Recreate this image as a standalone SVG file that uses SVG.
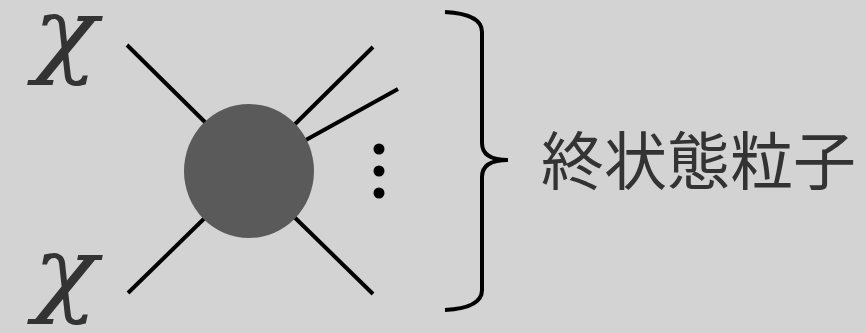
<svg xmlns="http://www.w3.org/2000/svg" width="866" height="333" viewBox="0 0 866 333">
<style>
.ln{stroke:#000;stroke-width:4;fill:none;stroke-linecap:butt}
.chi{font-family:"DejaVu Serif",serif;font-style:italic;font-size:90px;fill:#333}
.lbl{font-family:"Noto Sans CJK JP","Noto Sans CJK SC",sans-serif;font-size:63px;fill:#333}
</style>
<rect width="866" height="333" fill="#d3d3d3"/>
<g id="connectors">
<line class="ln" x1="127" y1="45" x2="215" y2="132"/>
<line class="ln" x1="373" y1="47" x2="285" y2="134"/>
<line class="ln" x1="398" y1="89" x2="295" y2="146"/>
<line class="ln" x1="128" y1="293" x2="215" y2="208"/>
<line class="ln" x1="373" y1="294" x2="285" y2="208"/>
</g>
<g id="vertex">
<ellipse cx="249" cy="171" rx="65" ry="67" fill="#5a5a5a"/>
</g>
<g id="dots" fill="#000">
<circle cx="379" cy="149" r="5.5"/>
<circle cx="379" cy="171" r="5.5"/>
<circle cx="379" cy="193" r="5.5"/>
</g>
<g id="chi-top" transform="translate(25,16) scale(1.18,1.05) translate(-15,-20)"><text class="chi" x="22" y="67">χ</text></g>
<g id="chi-bottom" transform="translate(25,255) scale(1.18,1.05) translate(-15,-20)"><text class="chi" x="22" y="67">χ</text></g>
<g id="brace">
<path class="ln" d="M445,12 Q482,14 482,32 L482,143 Q482,160 508,160 Q482,160 482,177 L482,290 Q482,308 445,310"/>
</g>
<g id="label"><text class="lbl" x="541" y="184">終状態粒子</text></g>
</svg>
